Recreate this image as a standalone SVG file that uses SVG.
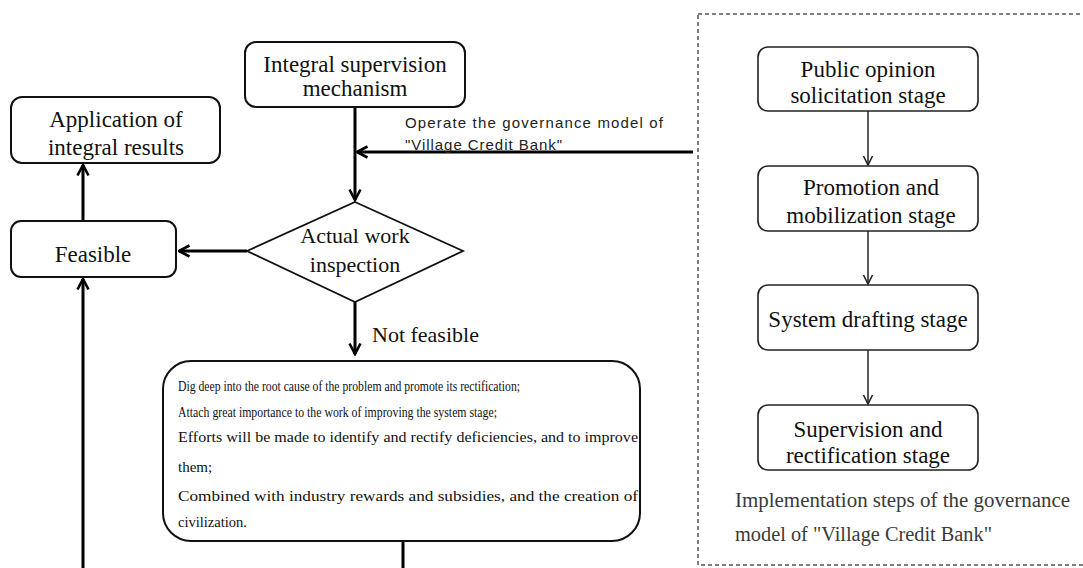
<svg xmlns="http://www.w3.org/2000/svg" width="1083" height="568" viewBox="0 0 1083 568">
<style>
.box{fill:#fff;stroke:#111;stroke-width:2}
.sbox{fill:#fff;stroke:#222;stroke-width:1.6}
.t{font-family:"Liberation Serif","DejaVu Serif",serif;font-size:23px;fill:#111;text-anchor:middle}
.s{font-family:"Liberation Serif","DejaVu Serif",serif;font-size:15px;fill:#111}
.c{stroke:#000;stroke-width:3;fill:none}
.cs{stroke:#222;stroke-width:1.5;fill:none}
.lab{font-family:"Liberation Sans","DejaVu Sans",sans-serif;font-size:15px;fill:#222}
.cap{font-family:"Liberation Serif","DejaVu Serif",serif;font-size:20px;fill:#3a3a3a}
</style>
<defs>
<marker id="ah" viewBox="0 0 14 14" refX="12.5" refY="7" markerWidth="14" markerHeight="14" markerUnits="userSpaceOnUse" orient="auto">
<path d="M2,1.5 L12.5,7 L2,12.5" fill="none" stroke="#000" stroke-width="2.6"/>
</marker>
<marker id="ahs" viewBox="0 0 12 12" refX="11" refY="6" markerWidth="12" markerHeight="12" markerUnits="userSpaceOnUse" orient="auto">
<path d="M2,1.5 L11,6 L2,10.5" fill="none" stroke="#222" stroke-width="1.6"/>
</marker>
</defs>
<rect x="0" y="0" width="1083" height="568" fill="#fff"/>

<g id="group-steps">
<rect x="698" y="14" width="400" height="551" fill="none" stroke="#555" stroke-width="1.5" stroke-dasharray="4,3"/>
</g>

<g id="connectors">
<line class="c" x1="355" y1="107" x2="355" y2="200" marker-end="url(#ah)"/>
<line class="c" x1="693" y1="152" x2="357" y2="152" marker-end="url(#ah)"/>
<line class="c" x1="247" y1="251" x2="179" y2="251" marker-end="url(#ah)"/>
<line class="c" x1="83" y1="221" x2="83" y2="165" marker-end="url(#ah)"/>
<line class="c" x1="355" y1="302" x2="355" y2="354" marker-end="url(#ah)"/>
<line class="c" x1="83" y1="568" x2="83" y2="279" marker-end="url(#ah)"/>
<line class="c" x1="403" y1="541" x2="403" y2="568"/>
<line class="cs" x1="868" y1="111" x2="868" y2="165" marker-end="url(#ahs)"/>
<line class="cs" x1="868" y1="231" x2="868" y2="284" marker-end="url(#ahs)"/>
<line class="cs" x1="868" y1="350" x2="868" y2="404" marker-end="url(#ahs)"/>
<text class="lab" x="405" y="128" textLength="258" lengthAdjust="spacing">Operate the governance model of</text>
<text class="lab" x="405" y="150" textLength="157" lengthAdjust="spacing">"Village Credit Bank"</text>
<text class="t" x="372" y="342" style="text-anchor:start;font-size:22px">Not feasible</text>
</g>

<g id="node-integral">
<rect class="box" x="245" y="42" width="220" height="65" rx="11"/>
<text class="t" x="355" y="72">Integral supervision</text>
<text class="t" x="355" y="96">mechanism</text>
</g>

<g id="node-application">
<rect class="box" x="11" y="97" width="209" height="66" rx="11"/>
<text class="t" x="116" y="127">Application of</text>
<text class="t" x="116" y="155">integral results</text>
</g>

<g id="node-feasible">
<rect class="box" x="11" y="221" width="165" height="56" rx="10"/>
<text class="t" x="93" y="262">Feasible</text>
</g>

<g id="node-inspection">
<polygon points="355,202 463,251 355,302 247,251" fill="#fff" stroke="#111" stroke-width="1.8"/>
<text class="t" x="355" y="243" style="font-size:22px">Actual work</text>
<text class="t" x="355" y="272" style="font-size:22px">inspection</text>
</g>

<g id="node-rectify">
<rect class="box" x="163" y="361" width="477" height="180" rx="28"/>
<text class="s" x="178" y="391" textLength="342" lengthAdjust="spacingAndGlyphs">Dig deep into the root cause of the problem and promote its rectification;</text>
<text class="s" x="178" y="417" textLength="319" lengthAdjust="spacingAndGlyphs">Attach great importance to the work of improving the system stage;</text>
<text class="s" x="178" y="442" textLength="460" lengthAdjust="spacingAndGlyphs">Efforts will be made to identify and rectify deficiencies, and to improve</text>
<text class="s" x="178" y="472">them;</text>
<text class="s" x="178" y="501" textLength="460" lengthAdjust="spacingAndGlyphs">Combined with industry rewards and subsidies, and the creation of</text>
<text class="s" x="178" y="527" textLength="69" lengthAdjust="spacingAndGlyphs">civilization.</text>
</g>

<g id="node-public">
<rect class="sbox" x="758" y="47" width="220" height="64" rx="10"/>
<text class="t" x="868" y="77">Public opinion</text>
<text class="t" x="868" y="103">solicitation stage</text>
</g>

<g id="node-promotion">
<rect class="sbox" x="758" y="166" width="220" height="65" rx="10"/>
<text class="t" x="871" y="195">Promotion and</text>
<text class="t" x="871" y="223">mobilization stage</text>
</g>

<g id="node-drafting">
<rect class="sbox" x="758" y="285" width="220" height="65" rx="10"/>
<text class="t" x="868" y="327">System drafting stage</text>
</g>

<g id="node-supervision">
<rect class="sbox" x="758" y="405" width="220" height="65" rx="10"/>
<text class="t" x="868" y="437">Supervision and</text>
<text class="t" x="868" y="463">rectification stage</text>
</g>

<g id="caption">
<text class="cap" x="735" y="507" textLength="335" lengthAdjust="spacingAndGlyphs">Implementation steps of the governance</text>
<text class="cap" x="735" y="541" textLength="257" lengthAdjust="spacingAndGlyphs">model of "Village Credit Bank"</text>
</g>
</svg>
